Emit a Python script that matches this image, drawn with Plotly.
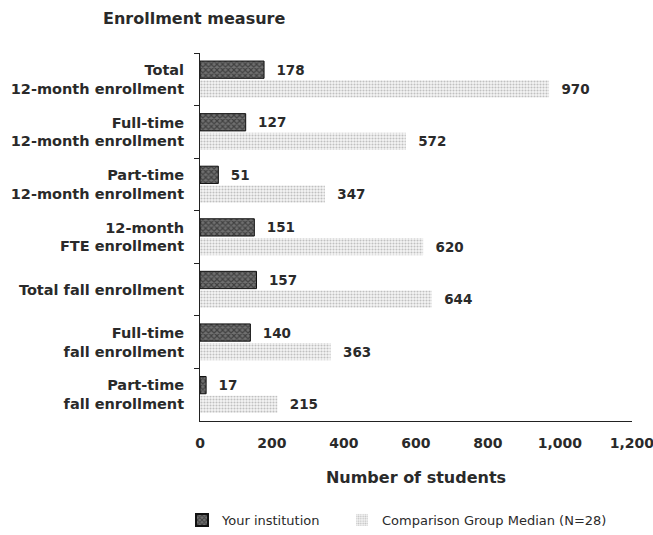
import plotly.graph_objects as go

categories = [
    "Total<br>12-month enrollment",
    "Full-time<br>12-month enrollment",
    "Part-time<br>12-month enrollment",
    "12-month<br>FTE enrollment",
    "Total fall enrollment",
    "Full-time<br>fall enrollment",
    "Part-time<br>fall enrollment",
]
your_institution = [178, 127, 51, 151, 157, 140, 17]
comparison_median = [970, 572, 347, 620, 644, 363, 215]
x_tickvals = [0, 200, 400, 600, 800, 1000, 1200]
x_ticktext = ["0", "200", "400", "600", "800", "1,000", "1,200"]

FONT = "DejaVu Sans"
TXT = "#2a2a2a"

W, H = 653, 535
PL, PR, PT, PB = 200, 21, 53, 114

fig = go.Figure()
fig.add_trace(go.Bar(
    y=categories, x=your_institution, orientation="h",
    name="Your institution" + "\u00a0" * 4,
    marker=dict(color="#555555", line=dict(color="#111111", width=1),
                pattern=dict(shape="x", fgcolor="#111111", bgcolor="#707070",
                             size=4, solidity=0.5)),
    text=[f"\u00a0\u00a0{v:,}" for v in your_institution],
    textposition="outside", cliponaxis=False,
    textfont=dict(family=FONT, size=13.5, color=TXT, weight="bold"),
))
fig.add_trace(go.Bar(
    y=categories, x=comparison_median, orientation="h",
    name="Comparison Group Median (N=28)",
    marker=dict(color="#dddddd", line=dict(width=0),
                pattern=dict(shape=".", fgcolor="#8a8a8a", bgcolor="#f6f6f6",
                             size=3, solidity=0.4)),
    text=[f"\u00a0\u00a0{v:,}" for v in comparison_median],
    textposition="outside", cliponaxis=False,
    textfont=dict(family=FONT, size=13.5, color=TXT, weight="bold"),
))

fig.update_layout(
    width=W, height=H,
    barmode="group", bargap=0.27, bargroupgap=0.1,
    plot_bgcolor="white", paper_bgcolor="white",
    margin=dict(l=PL, r=PR, t=PT, b=PB, autoexpand=False),
    font=dict(family=FONT, size=14, color=TXT, weight="bold"),
    showlegend=True,
    legend=dict(orientation="h", xref="container", yref="container",
                x=182 / W, xanchor="left", y=(H - 520) / H, yanchor="middle",
                font=dict(family=FONT, size=13, color=TXT, weight="normal"),
                itemsizing="constant"),
)
fig.update_xaxes(
    range=[0, 1200.5], tickvals=x_tickvals, ticktext=x_ticktext,
    showgrid=False, zeroline=False, showline=True, linecolor="#222222", linewidth=1,
    ticks="", ticklabelstandoff=9, automargin=False, ticklabeloverflow="allow",
    title=dict(text="Number of students", standoff=22,
               font=dict(family=FONT, size=16, color=TXT, weight="bold")),
    tickfont=dict(family=FONT, size=14, color=TXT, weight="bold"),
)
fig.update_yaxes(
    autorange="reversed", showgrid=False, zeroline=False, automargin=False,
    showline=True, linecolor="#222222", linewidth=1,
    ticks="outside", tickson="boundaries", ticklen=5, tickcolor="#222222",
    ticklabelstandoff=12,
    tickfont=dict(family=FONT, size=14.5, color=TXT, weight="bold"),
)
plot_w = W - PL - PR
plot_h = H - PT - PB
fig.add_annotation(
    text="Enrollment measure", xref="paper", yref="paper",
    x=(194 - PL) / plot_w, y=1 + (PT - 18) / plot_h, xanchor="center", yanchor="middle",
    showarrow=False, font=dict(family=FONT, size=16, color=TXT, weight="bold"),
)

# remove the default 8px page margin so the figure fills the window exactly
fig.write_html("out.html", config={"displayModeBar": False},
               post_script="document.body.style.margin='0';document.body.style.overflow='hidden';")
